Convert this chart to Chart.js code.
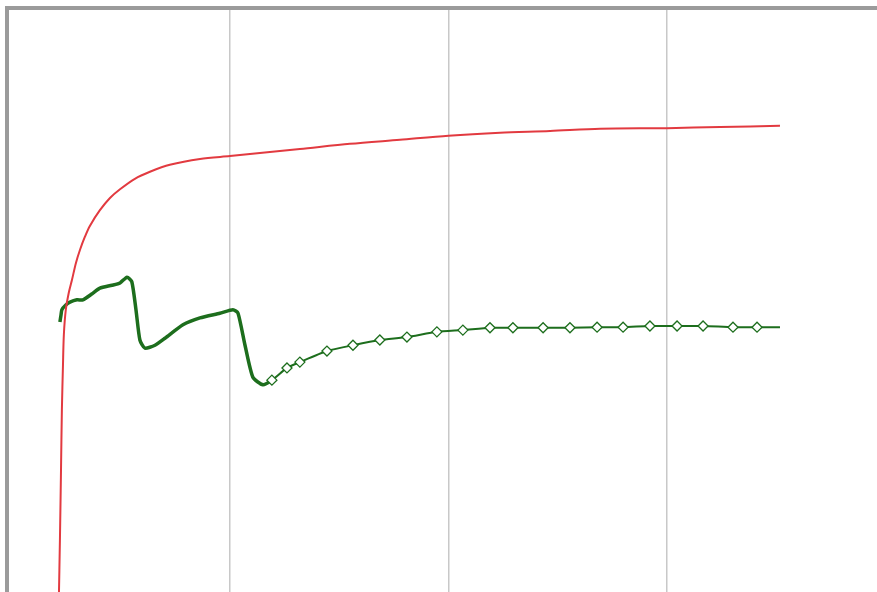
<!DOCTYPE html>
<html>
<head>
<meta charset="utf-8">
<script src="https://cdn.jsdelivr.net/npm/chart.js@4/dist/chart.umd.min.js"></script>
<style>
  html, body { margin: 0; padding: 0; background: #ffffff; overflow: hidden; }
  #frame {
    position: absolute; left: 5px; top: 6px;
    width: 880px; height: 600px;
    border-top: 4px solid #9b9b9b; border-left: 4px solid #9b9b9b;
    background: #ffffff;
  }
  #c { position: absolute; left: 0; top: 0; }
</style>
</head>
<body>
<div id="frame"><canvas id="c" width="868" height="582"></canvas></div>
<script>
// X positions (grid lines at 1000, 2000, 3000) and Y values (0-100 span of the plot)
const gridTicks = [1000, 2000, 3000];

const redX = [217, 222, 227, 231, 236, 240, 249, 263, 277, 295, 314, 336, 359, 405, 451, 497, 565, 634, 725, 863, 1000, 1320, 1549, 1778, 2000, 2236, 2465, 2694, 3000, 3243, 3517];
const redY = [-1.4, 8.9, 21.0, 31.3, 39.0, 44.2, 48.5, 51.5, 53.6, 56.5, 58.8, 61.0, 62.9, 65.6, 67.7, 69.2, 71.0, 72.2, 73.4, 74.4, 74.9, 76.1, 77.0, 77.7, 78.4, 78.9, 79.2, 79.6, 79.7, 79.9, 80.1];

const greenX = [222, 227, 231, 249, 268, 300, 327, 368, 405, 460, 497, 529, 551, 570, 588, 611, 657, 703, 785, 863, 954, 1014, 1037, 1069, 1105, 1151, 1192, 1261, 1320, 1444, 1563, 1686, 1810, 1947, 2066, 2190, 2295, 2433, 2556, 2680, 2799, 2922, 3046, 3165, 3302, 3412, 3517];
const greenY = [46.4, 47.6, 48.5, 49.3, 49.8, 50.2, 50.2, 51.2, 52.2, 52.7, 53.1, 54.1, 53.3, 48.5, 43.3, 41.9, 42.4, 43.6, 45.9, 47.1, 47.9, 48.5, 47.9, 42.4, 36.9, 35.6, 36.4, 38.5, 39.5, 41.4, 42.4, 43.3, 43.8, 44.7, 45.0, 45.4, 45.4, 45.4, 45.4, 45.5, 45.5, 45.7, 45.7, 45.7, 45.5, 45.5, 45.5];

const toPts = (xs, ys) => xs.map((x, i) => ({ x: x, y: ys[i] }));
const markerFrom = 1192;

new Chart(document.getElementById('c'), {
  type: 'line',
  data: {
    datasets: [
      {
        data: toPts(redX, redY),
        borderColor: '#e23a40',
        borderWidth: 2,
        pointRadius: 0,
        tension: 0.3,
        fill: false
      },
      {
        data: toPts(greenX, greenY),
        borderColor: '#1d6e1d',
        borderWidth: 2.5,
        segment: {
          borderWidth: ctx => (ctx.p0.parsed.x < 1192 ? 3.5 : 2)
        },
        tension: 0.2,
        fill: false,
        pointStyle: 'rectRot',
        pointRadius: ctx => (ctx.raw && ctx.raw.x >= markerFrom && ctx.raw.x < 3517) ? 5 : 0,
        pointBorderColor: '#1d6e1d',
        pointBackgroundColor: '#ffffff',
        pointBorderWidth: 1.3
      }
    ]
  },
  options: {
    responsive: false,
    animation: false,
    events: [],
    layout: { padding: 0 },
    plugins: { legend: { display: false }, tooltip: { enabled: false } },
    scales: {
      x: {
        type: 'linear',
        min: -11,
        max: 3961,
        afterBuildTicks: s => { s.ticks = gridTicks.map(v => ({ value: v })); },
        ticks: { display: false },
        border: { display: false },
        grid: { color: '#c8c8c8', lineWidth: 1.5, drawTicks: false }
      },
      y: {
        type: 'linear',
        min: 0,
        max: 100,
        display: false
      }
    }
  }
});
</script>
</body>
</html>
